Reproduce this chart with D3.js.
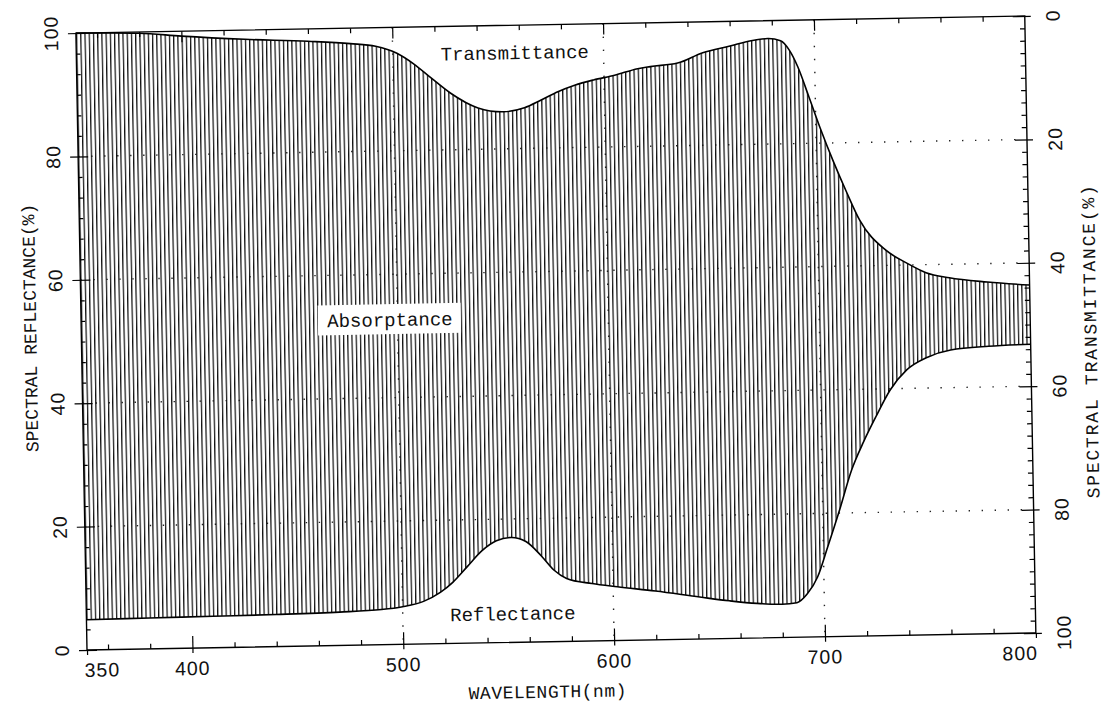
<!DOCTYPE html>
<html>
<head>
<meta charset="utf-8">
<script src="https://cdn.jsdelivr.net/npm/d3@7"></script>
<style>
  body { margin: 0; background: #fff; }
  svg { display: block; }
  .lab { font-family: "Liberation Sans", Arial, sans-serif; font-size: 19.5px; letter-spacing: 1px; fill: #111; }
  .ttl { font-family: "Liberation Mono", "DejaVu Sans Mono", monospace; font-size: 18px; fill: #111; }
  .note { font-family: "Liberation Mono", "DejaVu Sans Mono", monospace; font-size: 19px; fill: #111; }
</style>
</head>
<body>
<svg id="chart" width="1106" height="714"></svg>
<script>
// courbe basse : reflectance (%), axe de gauche
var reflWl  = [350, 380, 410, 440, 470, 490, 500, 510, 518, 524, 531, 538, 545, 552, 559, 566, 572, 578, 590, 602, 620, 641, 655, 668, 680, 687, 692, 697, 702, 708, 714, 720, 726, 733, 741, 751, 762, 780, 800];
var reflVal = [4.9, 5.0, 5.1, 5.2, 5.4, 5.7, 6.1, 6.9, 8.3, 9.9, 12.4, 14.9, 16.5, 17.0, 16.3, 14.0, 11.6, 10.2, 9.3, 8.7, 7.9, 6.8, 6.1, 5.6, 5.4, 5.6, 7.0, 9.7, 14.5, 20.5, 26.9, 31.5, 35.5, 39.8, 43.0, 45.0, 46.1, 46.6, 46.8];

// courbe haute : transmittance (%), axe de droite (0 en haut)
var transWl  = [350, 380, 400, 430, 460, 480, 492, 502, 510, 518, 527, 540, 552, 562, 570, 578, 586, 595, 605, 616, 622, 635, 647, 660, 670, 678, 684, 688, 692, 697, 702, 708, 714, 720, 732, 742, 751, 762, 780, 800];
var transVal = [0.0, 0.2, 0.8, 1.5, 2.0, 2.5, 3.0, 4.2, 6.0, 8.3, 10.8, 13.3, 14.0, 13.4, 12.2, 10.9, 9.9, 9.1, 8.4, 7.4, 7.1, 6.6, 5.0, 4.0, 3.2, 2.9, 3.3, 4.8, 7.6, 12.5, 17.5, 23.0, 28.0, 32.6, 37.5, 39.7, 41.3, 42.2, 43.0, 43.6];

var xMajor = [350, 400, 500, 600, 700, 800];
var xInner = [400, 500, 600, 700];
var xMinor = d3.range(360, 800, 20).filter(function (d) { return xInner.indexOf(d) < 0; });
var leftTicks = [0, 20, 40, 60, 80, 100];
var rightTicks = [0, 20, 40, 60, 80, 100];
var leftMinor = d3.range(0, 100, 20 / 6).filter(function (d, i) { return i % 6 !== 0; });
var rightMinor = d3.range(0, 100, 2).filter(function (d) { return d % 20 !== 0; });
var gridWl = [500, 600, 700];
var gridPct = [20, 40, 60, 80];

var W = 949, H = 617;

var svg = d3.select("#chart");
svg.append("rect").attr("width", 1106).attr("height", 714).attr("fill", "#fff");
var defs = svg.append("defs");

var x = d3.scaleLinear().domain([350, 800]).range([0, W]);
var yL = d3.scaleLinear().domain([0, 100]).range([H, 0]);
var yT = d3.scaleLinear().domain([0, 100]).range([0, H]);

// le scan est legerement tourne
var g = svg.append("g")
    .attr("transform", "translate(87,650) rotate(-1.03) translate(0," + (-H) + ")");

var upper = transWl.map(function (w, i) { return [w, transVal[i]]; });
var lower = reflWl.map(function (w, i) { return [w, reflVal[i]]; });

// hachures verticales, un trait tous les 2 nm
var step = x(352) - x(350);
defs.append("pattern")
    .attr("id", "hatch")
    .attr("patternUnits", "userSpaceOnUse")
    .attr("width", step)
    .attr("height", 20)
    .append("rect")
    .attr("x", 0).attr("y", 0)
    .attr("width", 1.25).attr("height", 20)
    .attr("fill", "#111");

var aboveR = d3.area()
    .x(function (d) { return x(d[0]); })
    .y0(0)
    .y1(function (d) { return yL(d[1]); })
    .curve(d3.curveMonotoneX);

defs.append("clipPath").attr("id", "aboveR")
    .append("path").attr("d", aboveR(lower));

// grille pointillee
var dots = "1.4,11.6";
g.selectAll(".vgrid").data(gridWl).enter().append("line")
    .attr("x1", function (d) { return x(d); }).attr("x2", function (d) { return x(d); })
    .attr("y1", 0).attr("y2", H)
    .attr("stroke", "#222").attr("stroke-width", 1.4).attr("stroke-dasharray", dots);
g.selectAll(".hgrid").data(gridPct).enter().append("line")
    .attr("x1", 0).attr("x2", W)
    .attr("y1", function (d) { return yL(d); }).attr("y2", function (d) { return yL(d); })
    .attr("stroke", "#222").attr("stroke-width", 1.4).attr("stroke-dasharray", dots);

var belowT = d3.area()
    .x(function (d) { return x(d[0]); })
    .y0(H)
    .y1(function (d) { return yT(d[1]); })
    .curve(d3.curveMonotoneX);

g.append("path")
    .attr("d", belowT(upper))
    .attr("fill", "url(#hatch)")
    .attr("clip-path", "url(#aboveR)");

var lineT = d3.line()
    .x(function (d) { return x(d[0]); })
    .y(function (d) { return yT(d[1]); })
    .curve(d3.curveMonotoneX);
var lineR = d3.line()
    .x(function (d) { return x(d[0]); })
    .y(function (d) { return yL(d[1]); })
    .curve(d3.curveMonotoneX);

g.append("path").attr("d", lineT(upper)).attr("fill", "none").attr("stroke", "#000").attr("stroke-width", 1.6);
g.append("path").attr("d", lineR(lower)).attr("fill", "none").attr("stroke", "#000").attr("stroke-width", 1.6);

// cadre
g.append("rect").attr("x", 0).attr("y", 0).attr("width", W).attr("height", H)
    .attr("fill", "none").attr("stroke", "#000").attr("stroke-width", 1.4);

function noDomain(s) {
    s.select(".domain").remove();
    s.selectAll(".tick line").attr("stroke-width", 1.2).attr("stroke", "#000");
}

// graduations
g.append("g").attr("transform", "translate(0," + H + ")")
    .call(d3.axisBottom(x).tickValues(xMinor).tickSize(-5).tickFormat(""))
    .call(noDomain);
g.append("g").attr("transform", "translate(0," + H + ")")
    .call(d3.axisBottom(x).tickValues(xMajor).tickSize(-12).tickFormat(""))
    .call(noDomain)
    .selectAll(".tick line").attr("y1", 5)
    .attr("y2", function (d) { return (d === 350 || d === 800) ? 0 : -12; });
g.append("g")
    .call(d3.axisTop(x).tickValues(xMinor).tickSize(-5).tickFormat(""))
    .call(noDomain);
g.append("g")
    .call(d3.axisTop(x).tickValues(xInner).tickSize(-11).tickFormat(""))
    .call(noDomain);
g.append("g")
    .call(d3.axisLeft(yL).tickValues(leftMinor).tickSize(-4).tickFormat(""))
    .call(noDomain);
g.append("g")
    .call(d3.axisLeft(yL).tickValues(leftTicks).tickSize(-10).tickFormat(""))
    .call(noDomain)
    .selectAll(".tick line").attr("x1", -8);
g.append("g").attr("transform", "translate(" + W + ",0)")
    .call(d3.axisRight(yT).tickValues(rightMinor).tickSize(-5).tickFormat(""))
    .call(noDomain);
g.append("g").attr("transform", "translate(" + W + ",0)")
    .call(d3.axisRight(yT).tickValues(rightTicks).tickSize(-12).tickFormat(""))
    .call(noDomain)
    .selectAll(".tick line").attr("x1", 6);

// etiquettes des axes
g.selectAll(".xlab").data(xMajor).enter().append("text")
    .attr("class", "lab")
    .attr("text-anchor", "middle")
    .attr("x", function (d) { return x(d) + (d === 350 ? 15 : d === 800 ? -16 : 0); })
    .attr("y", H + 27)
    .text(function (d) { return d; });

g.selectAll(".llab").data(leftTicks).enter().append("text")
    .attr("class", "lab")
    .attr("text-anchor", "middle")
    .attr("transform", function (d) { return "translate(-18," + yL(d) + ") rotate(-90)"; })
    .text(function (d) { return d; });

g.selectAll(".rlab").data(rightTicks).enter().append("text")
    .attr("class", "lab")
    .attr("text-anchor", "middle")
    .attr("transform", function (d) { return "translate(" + (W + 35) + "," + yT(d) + ") rotate(-90)"; })
    .text(function (d) { return d; });

g.append("text").attr("class", "ttl")
    .attr("text-anchor", "middle")
    .attr("transform", "translate(-45,294) rotate(-90)")
    .text("SPECTRAL REFLECTANCE(%)");

g.append("text").attr("class", "ttl")
    .attr("text-anchor", "middle")
    .style("letter-spacing", "1.8px")
    .attr("transform", "translate(" + (W + 66) + ",326) rotate(-90)")
    .text("SPECTRAL TRANSMITTANCE(%)");

g.append("text").attr("class", "ttl")
    .attr("text-anchor", "middle")
    .style("letter-spacing", "0.5px")
    .attr("x", 460).attr("y", H + 56)
    .text("WAVELENGTH(nm)");

// annotations
var ab = g.append("g").attr("transform", "translate(" + x(496.4) + "," + yL(51.6) + ")");
ab.append("rect").attr("x", -72).attr("y", -22).attr("width", 143).attr("height", 30).attr("fill", "#fff");
ab.append("text").attr("class", "note").attr("text-anchor", "middle").text("Absorptance");

g.append("text").attr("class", "note").attr("text-anchor", "middle")
    .attr("x", x(557.9)).attr("y", yL(94.5))
    .text("Transmittance");

g.append("text").attr("class", "note").attr("text-anchor", "middle")
    .attr("x", x(552.2)).attr("y", yL(3.6))
    .text("Reflectance");
</script>
</body>
</html>
